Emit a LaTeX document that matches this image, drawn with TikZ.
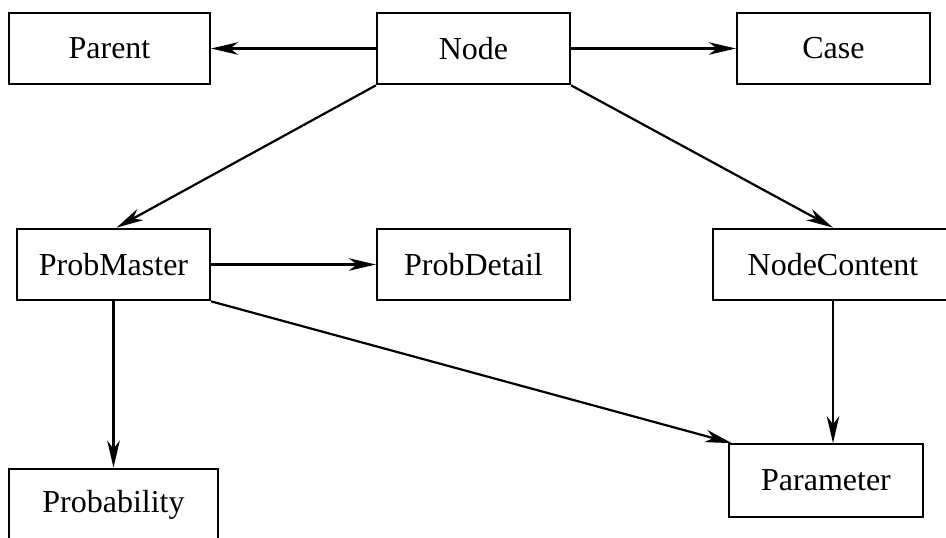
\documentclass[tikz,border=0pt]{standalone}
\usepackage{fontspec}
\setmainfont{Liberation Serif}
\usetikzlibrary{arrows.meta}

\begin{document}
\begin{tikzpicture}[x=1pt,y=-1pt,
  entity/.style={draw, line width=2.2pt, rectangle, inner sep=0pt,
    minimum width=193pt, minimum height=71.5pt,
    font=\fontsize{32}{38}\selectfont},
  link/.style={line width=2.2pt, -{Stealth[length=27pt,width=12.5pt,inset=8pt]}}
]
\useasboundingbox (0,0) rectangle (946,538);

% top row
\node[entity, minimum width=201pt] (Parent) at (109.5,48.5) {Parent};
\node[entity] (Node) at (473.5,48.5) {Node};
\node[entity] (Case) at (833.5,48.5) {Case};

% middle row
\node[entity] (ProbMaster) at (113.5,264.5) {ProbMaster};
\node[entity] (ProbDetail) at (473.5,264.5) {ProbDetail};
\node[entity, minimum width=240pt] (NodeContent) at (833,264.5) {NodeContent};

% bottom row
\node[entity, minimum width=209pt] (Probability) at (113.5,504.5) {Probability};
\node[entity, minimum width=194pt, minimum height=72.5pt] (Parameter) at (826,480.5) {Parameter};

% connectors
\draw[link] (Node.west) -- (Parent.east);
\draw[link] (Node.east) -- (Case.west);
\draw[link] (Node.south west) -- ([xshift=3pt]ProbMaster.north);
\draw[link] (Node.south east) -- (NodeContent.north);
\draw[link] (ProbMaster.east) -- (ProbDetail.west);
\draw[link] (ProbMaster.south) -- (Probability.north);
\draw[link] (ProbMaster.south east) -- ([xshift=4pt]Parameter.north west);
\draw[link] (NodeContent.south) -- (NodeContent.south |- Parameter.north);
\end{tikzpicture}
\end{document}
